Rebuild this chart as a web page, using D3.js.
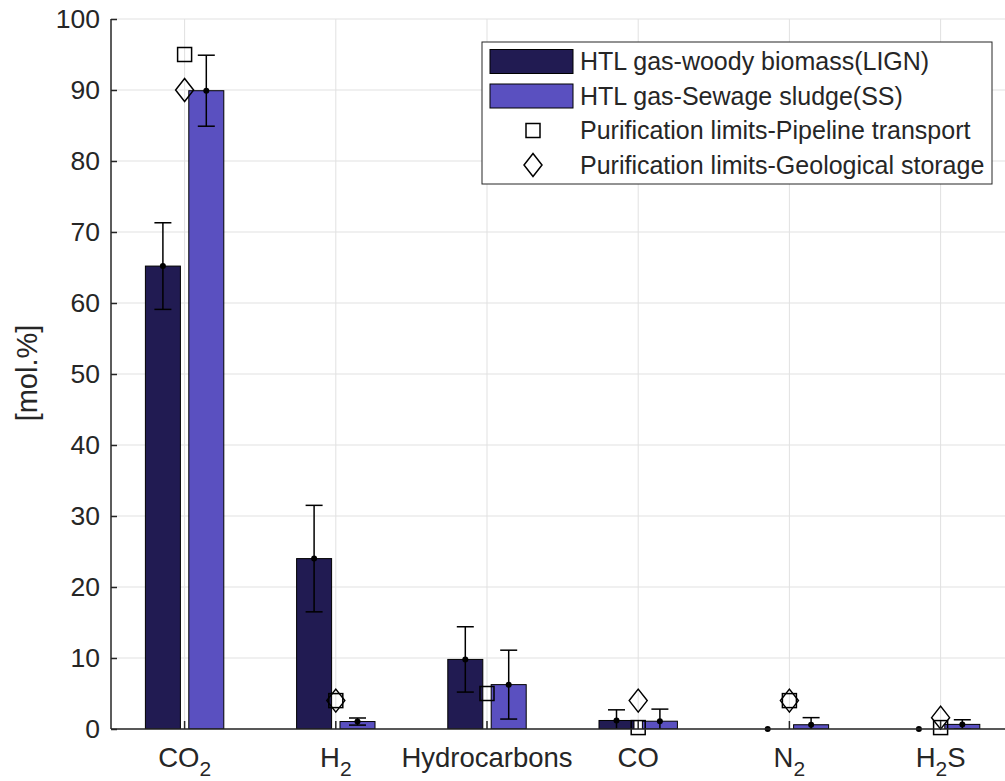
<!DOCTYPE html>
<html>
<head>
<meta charset="utf-8">
<script src="https://cdn.jsdelivr.net/npm/d3@7"></script>
<style>
  body { margin: 0; background: #fff; }
  text { font-family: "Liberation Sans", Arial, sans-serif; fill: #262626; }
</style>
</head>
<body>
<div id="chart"></div>
<script>
// data
var categories = ["CO_2", "H_2", "Hydrocarbons", "CO", "N_2", "H_2S"];
var lignValues = [65.2, 24.0, 9.8, 1.2, 0, 0];
var lignErr    = [6.1, 7.5, 4.6, 1.5, 0, 0];
var ssValues   = [89.9, 1.05, 6.25, 1.1, 0.6, 0.65];
var ssErr      = [5.0, 0.5, 4.85, 1.7, 1.0, 0.65];
var pipelineLimits   = [95, 4, 5, 0.2, 4, 0.2];
var geologicalLimits = [90, 4, null, 4, 4, 1.6];
var yTicks = d3.range(0, 101, 10);
var seriesNames = ["HTL gas-woody biomass(LIGN)", "HTL gas-Sewage sludge(SS)"];
var markerNames = ["Purification limits-Pipeline transport", "Purification limits-Geological storage"];

var colors = {lign: "#211b52", ss: "#5a50c0", axis: "#262626", grid: "#e1e1e1"};

var width = 1005, height = 781;
var plot = {left: 111, right: 1005, top: 19, bottom: 729};

var svg = d3.select("#chart").append("svg")
  .attr("width", width).attr("height", height);

var x = d3.scaleBand().domain(categories).range([109, 109 + 151.2 * 6]).padding(0);
var sub = d3.scaleBand().domain(["lign", "ss"]).range([-39.2, 39.2]).paddingInner(0.1935);
var y = d3.scaleLinear().domain([0, 100]).range([plot.bottom, plot.top]);
var cx = function(c) { return x(c) + x.bandwidth() / 2; };

svg.append("clipPath").attr("id", "clip")
  .append("rect")
  .attr("x", plot.left).attr("y", plot.top)
  .attr("width", plot.right - plot.left).attr("height", plot.bottom - plot.top);

// grid lines
var grid = svg.append("g");
grid.selectAll(".hg").data(yTicks).enter().append("line")
  .attr("x1", plot.left).attr("x2", plot.right)
  .attr("y1", function(d) { return y(d); }).attr("y2", function(d) { return y(d); })
  .attr("stroke", colors.grid).attr("stroke-width", 1);
grid.selectAll(".vg").data(categories).enter().append("line")
  .attr("x1", cx).attr("x2", cx)
  .attr("y1", plot.top).attr("y2", plot.bottom)
  .attr("stroke", colors.grid).attr("stroke-width", 1);

// build rows for the two series
var rows = [];
categories.forEach(function(c, i) {
  rows.push({cat: c, key: "lign", v: lignValues[i], e: lignErr[i]});
  rows.push({cat: c, key: "ss", v: ssValues[i], e: ssErr[i]});
});

var marks = svg.append("g").attr("clip-path", "url(#clip)");

marks.selectAll("rect.bar").data(rows).enter().append("rect")
  .attr("x", function(d) { return cx(d.cat) + sub(d.key); })
  .attr("width", sub.bandwidth())
  .attr("y", function(d) { return y(d.v); })
  .attr("height", function(d) { return y(0) - y(d.v); })
  .attr("fill", function(d) { return colors[d.key]; })
  .attr("stroke", "#000").attr("stroke-width", 1);

// error bars
var errRows = rows.filter(function(d) { return d.e > 0; });
var capW = 8.5;
var eb = marks.selectAll("g.eb").data(errRows).enter().append("g")
  .attr("stroke", "#000").attr("stroke-width", 1.5);
eb.append("line")
  .attr("x1", function(d) { return cx(d.cat) + sub(d.key) + sub.bandwidth() / 2; })
  .attr("x2", function(d) { return cx(d.cat) + sub(d.key) + sub.bandwidth() / 2; })
  .attr("y1", function(d) { return y(d.v - d.e); })
  .attr("y2", function(d) { return y(d.v + d.e); });
[-1, 1].forEach(function(s) {
  eb.append("line")
    .attr("x1", function(d) { return cx(d.cat) + sub(d.key) + sub.bandwidth() / 2 - capW; })
    .attr("x2", function(d) { return cx(d.cat) + sub(d.key) + sub.bandwidth() / 2 + capW; })
    .attr("y1", function(d) { return y(d.v + s * d.e); })
    .attr("y2", function(d) { return y(d.v + s * d.e); });
});

// mean dots
svg.selectAll("circle.dot").data(rows).enter().append("circle")
  .attr("cx", function(d) { return cx(d.cat) + sub(d.key) + sub.bandwidth() / 2; })
  .attr("cy", function(d) { return y(d.v); })
  .attr("r", 3).attr("fill", "#000");

// purification limit markers
var sq = 14, dw = 9, dh = 11.5;
function diamondPath(px, py) {
  return "M" + px + "," + (py - dh) + "L" + (px + dw) + "," + py +
    "L" + px + "," + (py + dh) + "L" + (px - dw) + "," + py + "Z";
}
svg.selectAll("rect.pipe").data(categories.map(function(c, i) { return {cat: c, v: pipelineLimits[i]}; })
    .filter(function(d) { return d.v != null; }))
  .enter().append("rect")
  .attr("x", function(d) { return cx(d.cat) - sq / 2; })
  .attr("y", function(d) { return y(d.v) - sq / 2; })
  .attr("width", sq).attr("height", sq)
  .attr("fill", "none").attr("stroke", "#000").attr("stroke-width", 1.5);
svg.selectAll("path.geo").data(categories.map(function(c, i) { return {cat: c, v: geologicalLimits[i]}; })
    .filter(function(d) { return d.v != null; }))
  .enter().append("path")
  .attr("d", function(d) { return diamondPath(cx(d.cat), y(d.v)); })
  .attr("fill", "none").attr("stroke", "#000").attr("stroke-width", 1.5);

// y axis
var yAxis = svg.append("g")
  .attr("transform", "translate(" + plot.left + ",0)")
  .call(d3.axisLeft(y).tickValues(yTicks).tickSizeInner(-6).tickSizeOuter(0).tickPadding(11));
yAxis.select(".domain").remove();
yAxis.selectAll("line").attr("stroke", colors.axis).attr("stroke-width", 1.5);
yAxis.selectAll("text").attr("font-size", "26.5px").attr("fill", colors.axis)
  .attr("font-family", "Liberation Sans, Arial, sans-serif");

// x axis
var xAxis = svg.append("g")
  .attr("transform", "translate(0," + plot.bottom + ")")
  .call(d3.axisBottom(x).tickSizeInner(-8).tickSizeOuter(0).tickPadding(0).tickFormat(""));
xAxis.select(".domain").remove();
xAxis.selectAll("line").attr("stroke", colors.axis).attr("stroke-width", 1.5);
xAxis.selectAll(".tick").each(function(c) {
  var t = d3.select(this).select("text")
    .attr("y", 38).attr("dy", null)
    .attr("font-size", "27.5px").attr("fill", colors.axis)
    .attr("font-family", "Liberation Sans, Arial, sans-serif");
  var parts = c.split("_");
  t.append("tspan").text(parts[0]);
  if (parts.length > 1) {
    t.append("tspan").attr("font-size", "21px").attr("dy", 9).text(parts[1].charAt(0));
    if (parts[1].length > 1) t.append("tspan").attr("dy", -9).text(parts[1].slice(1));
  }
});

// axis lines
svg.append("line").attr("x1", plot.left).attr("x2", plot.left)
  .attr("y1", plot.top).attr("y2", plot.bottom)
  .attr("stroke", colors.axis).attr("stroke-width", 1.5);
svg.append("line").attr("x1", plot.left).attr("x2", plot.right)
  .attr("y1", plot.bottom).attr("y2", plot.bottom)
  .attr("stroke", colors.axis).attr("stroke-width", 1.5);

// y label
svg.append("text")
  .attr("transform", "translate(37," + 373 + ") rotate(-90)")
  .attr("text-anchor", "middle")
  .attr("font-size", "29px")
  .text("[mol.%]");

// legend
var legend = svg.append("g").attr("transform", "translate(482,42)");
legend.append("rect").attr("width", 510).attr("height", 142)
  .attr("fill", "#fff").attr("stroke", colors.axis).attr("stroke-width", 1);
var rowY = [19.5, 54, 88.5, 123];
[colors.lign, colors.ss].forEach(function(col, i) {
  legend.append("rect").attr("x", 8).attr("y", rowY[i] - 12).attr("width", 83).attr("height", 24)
    .attr("fill", col).attr("stroke", "#000").attr("stroke-width", 1);
  legend.append("text").attr("x", 98).attr("y", rowY[i]).attr("dy", "0.35em")
    .attr("font-size", "25px").text(seriesNames[i]);
});
legend.append("rect").attr("x", 51 - sq / 2).attr("y", rowY[2] - sq / 2)
  .attr("width", sq).attr("height", sq)
  .attr("fill", "none").attr("stroke", "#000").attr("stroke-width", 1.5);
legend.append("path").attr("d", diamondPath(51, rowY[3]))
  .attr("fill", "none").attr("stroke", "#000").attr("stroke-width", 1.5);
markerNames.forEach(function(n, i) {
  legend.append("text").attr("x", 98).attr("y", rowY[i + 2]).attr("dy", "0.35em")
    .attr("font-size", "25px").text(n);
});
</script>
</body>
</html>
